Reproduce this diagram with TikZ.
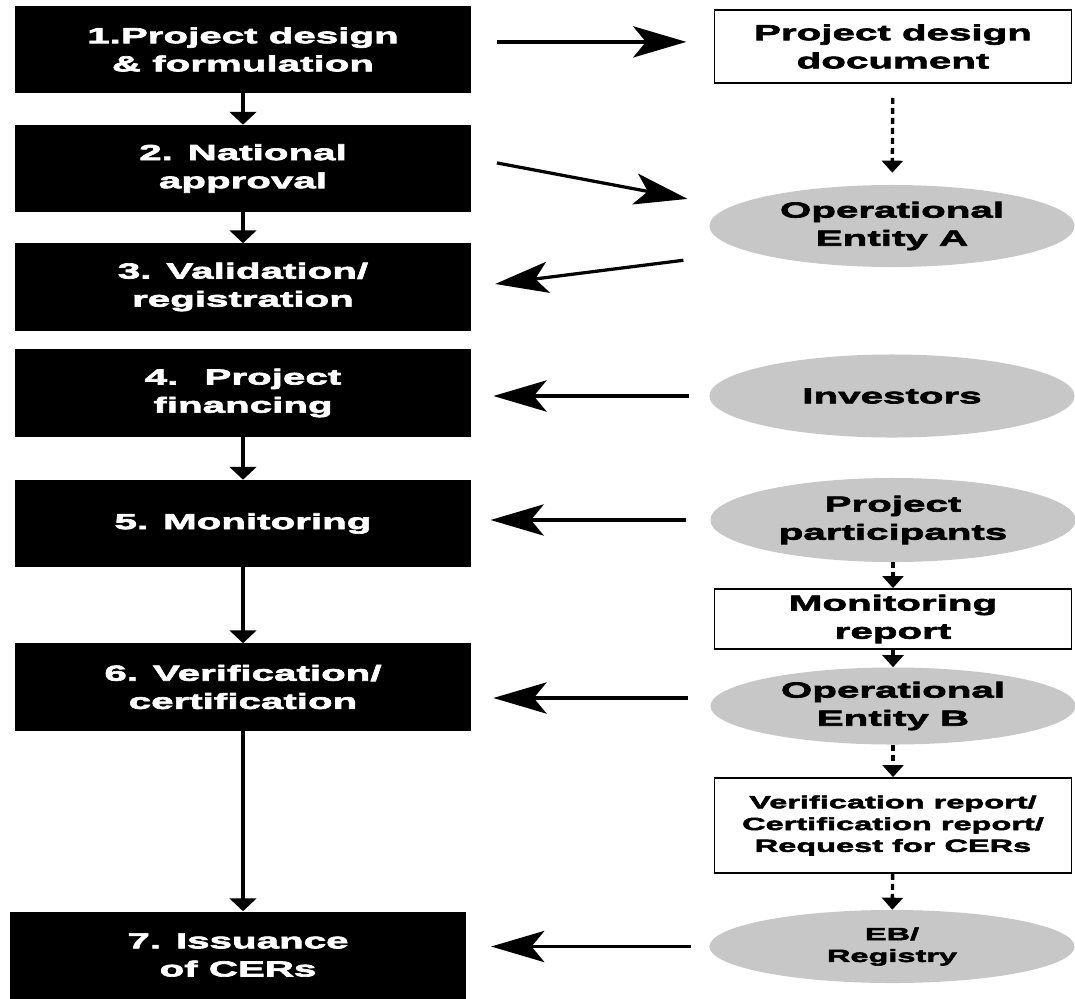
\documentclass[tikz,border=0pt]{standalone}
\usepackage{fontspec}
\setmainfont{Liberation Sans Bold}[FakeStretch=1.85, FakeBold=3]
\usepackage{tikz}
\usetikzlibrary{shapes.geometric}
\usetikzlibrary{arrows.meta}
\usepackage{xcolor}

\tikzset{
  stage/.style={fill=black, text=white, font=\fontsize{15.5}{20}\selectfont,
    align=center, minimum width=11.4cm, minimum height=2.175cm, inner sep=0pt},
  doc/.style={draw=black, line width=1.3pt, fill=white, font=\fontsize{15.5}{20}\selectfont,
    align=center, minimum width=8.925cm, inner sep=0pt},
  actor/.style={ellipse, fill=black!22, font=\fontsize{15.5}{20}\selectfont,
    align=center, minimum width=9.125cm, inner sep=0pt},
  small/.style={font=\fontsize{12.5}{15.5}\selectfont},
  bigarrow/.style={line width=2.3pt, -{Stealth[length=1.33cm, width=0.78cm, inset=0.32cm]}},
  flow/.style={line width=2.5pt, -{Triangle[length=0.32cm, width=0.66cm]}},
  docflow/.style={line width=2.4pt, dash pattern=on 0.15cm off 0.1cm, -{Triangle[length=0.3cm, width=0.52cm]}}
}

\begin{document}
\begin{tikzpicture}[x=0.025cm, y=-0.025cm]
\useasboundingbox (0,0) rectangle (1075,998);

\node[stage] (s1) at (243,49.5) {1.Project design\\\& formulation};
\node[stage] (s2) at (243,168.5) {2. National\\approval};
\node[stage] (s3) at (243,287) {3. Validation/\\registration};
\node[stage] (s4) at (243,393) {4.~ Project\\financing};
\node[stage] (s5) at (243,523.5) {5. Monitoring};
\node[stage] (s6) at (243,687) {6. Verification/\\certification};
\node[stage] (s7) at (238,955) {7. Issuance\\of CERs};

\node[doc, minimum height=1.825cm] (pdd) at (893,46.5) {Project design\\document};
\node[actor, minimum height=2.05cm] (oeA) at (892,226) {Operational\\Entity A};
\node[actor, minimum height=2.075cm] (inv) at (892,396) {Investors};
\node[actor, minimum height=2.1cm] (pp) at (893,520) {Project\\participants};
\node[doc, minimum height=1.5cm] (mrep) at (893,619) {Monitoring\\report};
\node[actor, minimum height=1.925cm] (oeB) at (893,706) {Operational\\Entity B};
\node[doc, small, minimum height=2.375cm] (vrep) at (893,825.5) {Verification report/\\Certification report/\\Request for CERs};
\node[actor, small, minimum height=1.825cm] (eb) at (892,946.5) {EB/\\Registry};

\draw[flow] (s1) -- (s2);
\draw[flow] (s2) -- (s3);
\draw[flow] (s4) -- (s5);
\draw[flow] (s5) -- (s6);
\draw[flow] (s6.south) -- (s6.south |- s7.north);

\draw[bigarrow, shorten <=0.65cm, shorten >=0.68cm] ([yshift=0.19cm]s1.east) -- ([yshift=0.19cm]s1.east -| pdd.west);
\draw[bigarrow, shorten <=0.65cm, shorten >=0.55cm] ([yshift=0.26cm]s2.east) -- ([yshift=0.575cm]oeA.west);
\draw[bigarrow, shorten <=0.65cm, shorten >=0.6cm] ([yshift=-0.775cm]oeA.west) -- (s3.east);
\draw[bigarrow, shorten <=0.5cm, shorten >=0.55cm] (inv.west) -- (inv.west -| s4.east);
\draw[bigarrow, shorten <=0.6cm, shorten >=0.48cm] (pp.west) -- (pp.west -| s5.east);
\draw[bigarrow, shorten <=0.55cm, shorten >=0.55cm] ([yshift=0.2cm]oeB.west) -- ([yshift=0.2cm]oeB.west -| s6.east);
\draw[bigarrow, shorten <=0.45cm, shorten >=0.62cm] (eb.west) -- (eb.west -| s7.east);

\draw[docflow, shorten <=0.35cm, shorten >=0.3cm] (pdd) -- (oeA);
\draw[docflow] (pp) -- (mrep);
\draw[flow, -{Triangle[length=0.3cm, width=0.52cm]}] (mrep) -- (oeB);
\draw[docflow] (oeB) -- (vrep);
\draw[docflow] (vrep) -- (eb);
\end{tikzpicture}
\end{document}
